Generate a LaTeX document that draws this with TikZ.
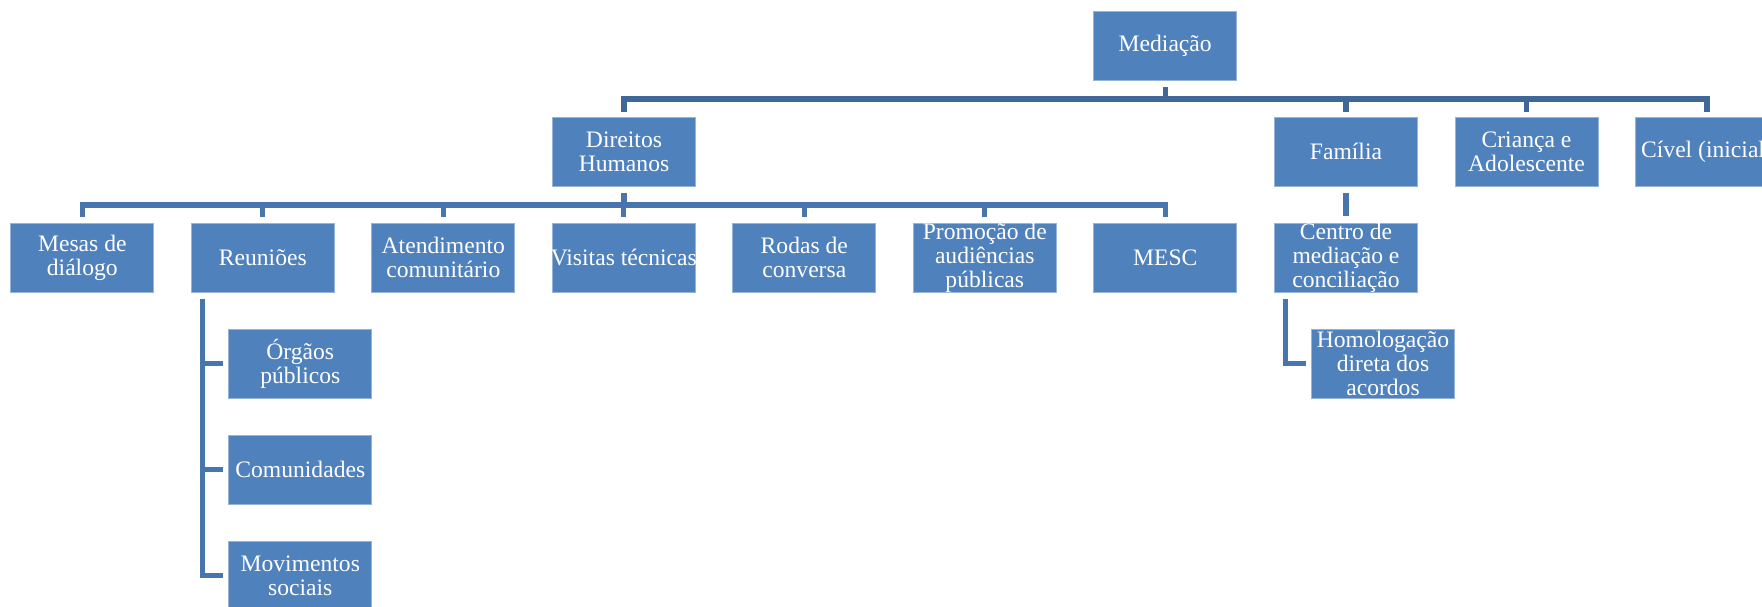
\documentclass[tikz,border=0pt]{standalone}
\usepackage{fontspec}
\setmainfont{Liberation Serif}
\usetikzlibrary{calc}

\definecolor{boxfill}{RGB}{79,129,189}
\definecolor{boxedge}{RGB}{150,180,216}
\definecolor{linktop}{RGB}{63,104,153}
\definecolor{linksub}{RGB}{72,118,172}

\tikzset{
  unit box/.style={rectangle, fill=boxfill, draw=boxedge, line width=0.5pt,
    minimum width=71.5pt, minimum height=34.3pt, inner sep=0pt},
  unit text/.style={inner sep=0pt, align=center, text=white,
    font=\fontsize{11.8}{12}\selectfont},
  link/.style={line width=2.6pt, line join=miter, line cap=butt},
}

% a box of the chart with its caption laid over it
\newcommand\orgbox[3]{%
  \node[unit box] (#1) at (#2) {};
  \node[unit text] (#1-t) at (#1.center) {#3};}

\begin{document}
\begin{tikzpicture}[x=0.5pt,y=-0.5pt]
\clip (0,0) rectangle (1762,606);
\fill[white] (0,0) rectangle (1762,606);

% top level
\orgbox{med}{1165.2,46.2}{Mediação}

% second level
\orgbox{dh}{624,151.7}{Direitos\\Humanos}
\orgbox{fam}{1346,151.7}{Família}
\orgbox{cri}{1526.5,151.7}{Criança e\\Adolescente}
\orgbox{civ}{1707,151.7}{Cível (inicial)}

% third level
\orgbox{mes}{82.3,257.7}{Mesas de\\diálogo}
\orgbox{reu}{262.8,257.7}{Reuniões}
\orgbox{atd}{443.3,257.7}{Atendimento\\comunitário}
\orgbox{vis}{623.8,257.7}{Visitas técnicas}
\orgbox{rod}{804.3,257.7}{Rodas de\\conversa}
\orgbox{pro}{984.8,257.7}{Promoção de\\audiências\\públicas}
\orgbox{msc}{1165.3,257.7}{MESC}
\orgbox{cen}{1346,257.7}{Centro de\\mediação e\\conciliação}

% fourth level
\orgbox{org}{300.3,363.8}{Órgãos\\públicos}
\orgbox{com}{300.3,469.7}{Comunidades}
\orgbox{mov}{300.3,575.8}{Movimentos\\sociais}
\orgbox{hom}{1383,363.8}{Homologação\\direta dos\\acordos}

% bus lines
\coordinate (b1) at (0,99);
\coordinate (b2) at (0,205);

% Mediação to its children
\draw[link,linktop] ($(med.south)+(0,6)$) -- (med.south |- b1);
\draw[link,linktop] ($(dh.north)+(0,-5.3)$) |- (civ.north |- b1)
  -- ($(civ.north)+(0,-5.3)$);
\foreach \n in {fam,cri}
  \draw[link,linktop] ($(\n.north)+(0,-5.3)$) -- (\n.north |- b1);

% Direitos Humanos to its children
\draw[link,linksub] ($(dh.south)+(0,6.7)$) -- (dh.south |- b2);
\draw[link,linksub] ($(mes.north)+(0,-6)$) |- (msc.north |- b2)
  -- ($(msc.north)+(0,-6)$);
\foreach \n in {reu,atd,vis,rod,pro}
  \draw[link,linksub] ($(\n.north)+(0,-6)$) -- (\n.north |- b2);

% Família to Centro
\draw[link,linksub] ($(fam.south)+(0,6.7)$) -- ($(cen.north)+(0,-6.6)$);

% Reuniões to its children
\coordinate (rtop) at ($(reu.south west)+(12,6)$);
\draw[link,linksub] (rtop) |- ($(mov.west)+(-5.6,0)$);
\foreach \n in {org,com}
  \draw[link,linksub] (rtop |- \n.west) -- ($(\n.west)+(-5.6,0)$);

% Centro to Homologação
\draw[link,linksub] ($(cen.south west)+(11.7,6)$) |- ($(hom.west)+(-5.3,0)$);
\end{tikzpicture}
\end{document}
